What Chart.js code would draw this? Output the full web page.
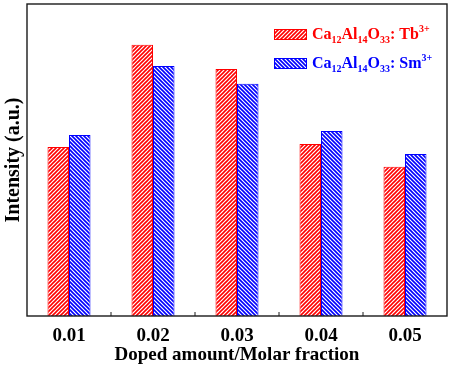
<!DOCTYPE html>
<html lang="en">
<head>
  <meta charset="UTF-8">
  <title>Intensity vs doped amount</title>
  <style>
    html, body { margin: 0; padding: 0; background: #fff; }
    #wrap { width: 454px; height: 368px; }
  </style>
</head>
<body>
  <div id="wrap"><canvas id="chart" width="454" height="368"></canvas></div>

  <script src="https://cdn.jsdelivr.net/npm/chart.js"></script>
  <script>
    const dopedAmounts = ['0.01', '0.02', '0.03', '0.04', '0.05'];
    const tbIntensity = [54.2, 86.9, 79.2, 55.1, 47.8];
    const smIntensity = [58.0, 80.1, 74.4, 59.3, 51.9];

    const RED = '#ff0000';
    const BLUE = '#0000ff';
    const SERIF = '"Liberation Serif", "Times New Roman", serif';

    // hatch fill: dir 1 = "/", dir -1 = "\"
    const hatch = (color, dir) => {
      const c = document.createElement('canvas');
      c.width = c.height = 4;
      const g = c.getContext('2d');
      g.fillStyle = '#fff';
      g.fillRect(0, 0, 4, 4);
      g.strokeStyle = color;
      g.lineWidth = 1.6;
      g.beginPath();
      if (dir > 0) {
        g.moveTo(0, 4); g.lineTo(4, 0);
        g.moveTo(-1, 1); g.lineTo(1, -1);
        g.moveTo(3, 5); g.lineTo(5, 3);
      } else {
        g.moveTo(0, 0); g.lineTo(4, 4);
        g.moveTo(-1, 3); g.lineTo(1, 5);
        g.moveTo(3, -1); g.lineTo(5, 1);
      }
      g.stroke();
      return g.createPattern(c, 'repeat');
    };

    const redHatch = hatch(RED, 1);
    const blueHatch = hatch(BLUE, -1);

    // legend entries, text split into normal / sub / super parts
    const legendItems = [
      { fill: redHatch, color: RED, parts: [['Ca', 0], ['12', -1], ['Al', 0], ['14', -1], ['O', 0], ['33', -1], [': Tb', 0], ['3+', 1]] },
      { fill: blueHatch, color: BLUE, parts: [['Ca', 0], ['12', -1], ['Al', 0], ['14', -1], ['O', 0], ['33', -1], [': Sm', 0], ['3+', 1]] }
    ];

    const framePlugin = {
      id: 'frame',
      afterDatasetsDraw(chart) {
        const { ctx, chartArea: a, scales: { x } } = chart;
        ctx.save();
        ctx.strokeStyle = '#1a1a1a';
        ctx.lineWidth = 1.4;
        ctx.strokeRect(a.left, a.top, a.right - a.left, a.bottom - a.top);
        // small inward ticks between categories
        ctx.lineWidth = 1;
        ctx.beginPath();
        for (let i = 1; i < dopedAmounts.length; i++) {
          const px = (x.getPixelForTick(i - 1) + x.getPixelForTick(i)) / 2;
          ctx.moveTo(px, a.bottom);
          ctx.lineTo(px, a.bottom - 4);
        }
        ctx.stroke();
        ctx.restore();
      },
      afterDraw(chart) {
        const { ctx, chartArea: a } = chart;
        ctx.save();
        legendItems.forEach((item, k) => {
          const bx = a.right - 173;
          const by = a.top + 25 + k * 29;
          ctx.fillStyle = item.fill;
          ctx.fillRect(bx, by, 33, 10);
          ctx.strokeStyle = item.color;
          ctx.lineWidth = 1;
          ctx.strokeRect(bx + 0.5, by + 0.5, 32, 10);

          let tx = bx + 38;
          const base = by + 10;
          ctx.fillStyle = item.color;
          ctx.textBaseline = 'alphabetic';
          item.parts.forEach(([txt, kind]) => {
            const size = kind === 0 ? 16 : 10;
            ctx.font = `bold ${size}px ${SERIF}`;
            const dy = kind < 0 ? 4 : (kind > 0 ? -7 : 0);
            ctx.fillText(txt, tx, base + dy);
            tx += ctx.measureText(txt).width;
          });
        });
        ctx.restore();
      }
    };

    new Chart(document.getElementById('chart'), {
      type: 'bar',
      data: {
        labels: dopedAmounts,
        datasets: [
          {
            label: 'Ca12Al14O33: Tb3+',
            data: tbIntensity,
            backgroundColor: redHatch,
            borderColor: RED,
            borderWidth: 1
          },
          {
            label: 'Ca12Al14O33: Sm3+',
            data: smIntensity,
            backgroundColor: blueHatch,
            borderColor: BLUE,
            borderWidth: 1
          }
        ]
      },
      options: {
        responsive: false,
        animation: false,
        layout: { padding: { top: 4, right: 7, left: 0, bottom: 0 } },
        datasets: {
          bar: { categoryPercentage: 0.512, barPercentage: 1 }
        },
        plugins: {
          legend: { display: false },
          tooltip: { enabled: false }
        },
        scales: {
          x: {
            afterFit(scale) { scale.height = 52; },
            border: { display: false },
            grid: { display: false, drawTicks: false },
            ticks: {
              color: '#000',
              padding: 10.5,
              font: { family: SERIF, size: 19, weight: 'bold', lineHeight: 1.0 }
            },
            title: {
              display: true,
              text: 'Doped amount/Molar fraction',
              color: '#000',
              padding: { top: 0, bottom: 3 },
              font: { family: SERIF, size: 19, weight: 'bold', lineHeight: 1.0 }
            }
          },
          y: {
            min: 0,
            max: 100,
            border: { display: false },
            grid: { display: false, drawTicks: false },
            ticks: { display: false },
            title: {
              display: true,
              text: 'Intensity (a.u.)',
              color: '#000',
              padding: { top: 3, bottom: 2 },
              font: { family: SERIF, size: 20, weight: 'bold', lineHeight: 1.1 }
            }
          }
        }
      },
      plugins: [framePlugin]
    });
  </script>
</body>
</html>
